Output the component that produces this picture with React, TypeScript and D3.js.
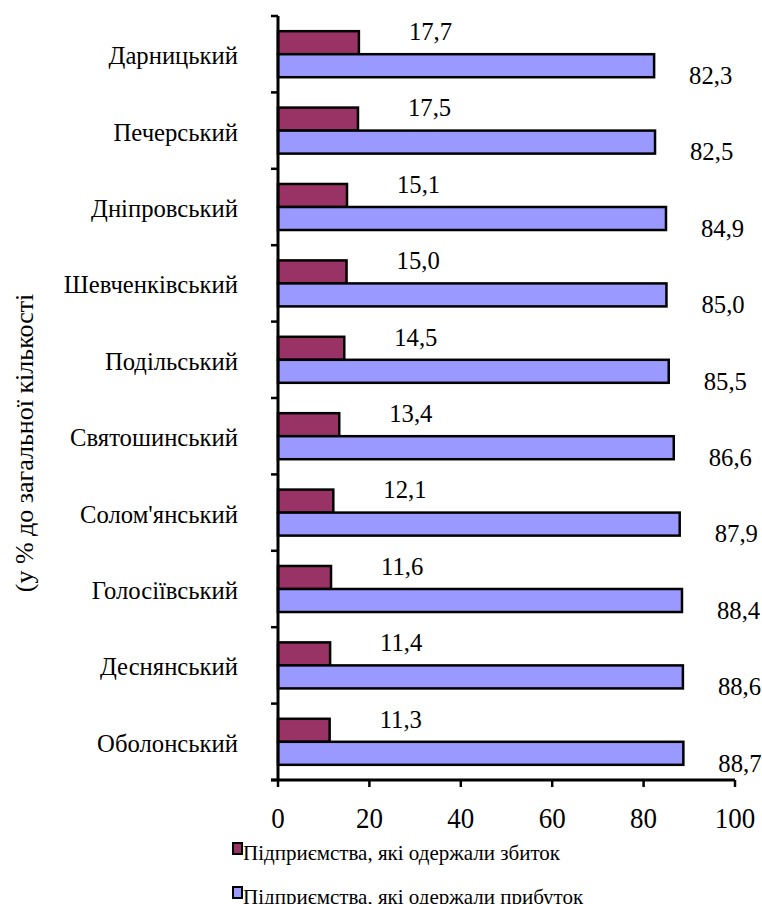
import React, { useEffect, useState } from "react";
import * as d3 from "d3";

const districts = [
  "Дарницький",
  "Печерський",
  "Дніпровський",
  "Шевченківський",
  "Подільський",
  "Святошинський",
  "Солом'янський",
  "Голосіївський",
  "Деснянський",
  "Оболонський",
];
const lossShare = [17.7, 17.5, 15.1, 15.0, 14.5, 13.4, 12.1, 11.6, 11.4, 11.3];
const profitShare = [82.3, 82.5, 84.9, 85.0, 85.5, 86.6, 87.9, 88.4, 88.6, 88.7];
const xTicks = [0, 20, 40, 60, 80, 100];
const seriesNames = [
  "Підприємства, які одержали збиток",
  "Підприємства, які одержали прибуток",
];
const axisTitle = "(у % до загальної кількості";

const W = 762;
const H = 904;
const FONT = '"Liberation Serif", "Times New Roman", Tinos, monospace';
const RED = "#993366";
const BLUE = "#9999FF";

const fmt = (v: number) => v.toFixed(1).replace(".", ",");

export default function App() {
  const [tick, setTick] = useState(0);
  useEffect(() => {
    const fonts = (document as any).fonts;
    if (fonts && fonts.load) {
      fonts.load('26px "Liberation Serif"', "Дарницький 17,7").then(() => setTick((t) => t + 1)).catch(() => {});
    }
    const t1 = setTimeout(() => setTick((t) => t + 1), 150);
    return () => clearTimeout(t1);
  }, []);

  const x = d3.scaleLinear().domain([0, 100]).range([278, 735]);
  const y = d3.scaleBand<string>().domain(districts).range([16, 780]).paddingInner(0).paddingOuter(0);
  const sub = d3
    .scaleBand<string>()
    .domain(["loss", "profit"])
    .range([0, y.bandwidth()])
    .paddingInner(0)
    .paddingOuter(0.66);

  const x0 = x(0);
  const yBottom = y.range()[1];
  const yTop = y.range()[0];
  const boundaries = districts.map((d) => y(d) as number).concat([yBottom]);
  const ts = { fontFamily: FONT };

  return (
    <svg key={tick} width={W} height={H} style={{ position: "absolute", left: 0, top: 0 }}>
      <rect x={0} y={0} width={W} height={H} fill="#fff" />
      <text
        transform={`translate(33,${443}) rotate(-90)`}
        textAnchor="middle"
        fontSize={26}
        style={ts}
      >
        {axisTitle}
      </text>

      {districts.map((d, i) => {
        const by = y(d) as number;
        const ry = by + (sub("loss") as number);
        const py = by + (sub("profit") as number);
        const h = sub.bandwidth();
        return (
          <g key={d}>
            <rect x={x0} y={ry} width={x(lossShare[i]) - x0} height={h} fill={RED} stroke="#000" strokeWidth={2.5} />
            <rect x={x0} y={py} width={x(profitShare[i]) - x0} height={h} fill={BLUE} stroke="#000" strokeWidth={2.5} />
          </g>
        );
      })}

      {districts.map((d, i) => {
        const by = y(d) as number;
        return (
          <g key={"lab" + d}>
            <text
              transform={`translate(${x(lossShare[i]) + 50},${by + 24}) scale(0.95,1)`}
              textAnchor="start"
              fontSize={26}
              style={ts}
            >
              {fmt(lossShare[i])}
            </text>
            <text
              transform={`translate(${x(profitShare[i]) + 35},${by + 68}) scale(0.95,1)`}
              textAnchor="start"
              fontSize={26}
              style={ts}
            >
              {fmt(profitShare[i])}
            </text>
          </g>
        );
      })}

      {districts.map((d) => (
        <text
          key={"cat" + d}
          transform={`translate(238,${(y(d) as number) + y.bandwidth() / 2 + 10}) scale(0.95,1)`}
          textAnchor="end"
          fontSize={26}
          style={ts}
        >
          {d}
        </text>
      ))}

      <line x1={x0} x2={x0} y1={yTop} y2={yBottom} stroke="#000" strokeWidth={3} />
      {boundaries.map((b, i) => (
        <line key={"yt" + i} x1={x0 - 7} x2={x0} y1={b} y2={b} stroke="#000" strokeWidth={2.5} />
      ))}

      <line x1={x0 - 7} x2={x(100)} y1={yBottom} y2={yBottom} stroke="#000" strokeWidth={3} />
      {xTicks.map((t) => (
        <g key={"xt" + t}>
          <line x1={x(t)} x2={x(t)} y1={yBottom} y2={yBottom + 7} stroke="#000" strokeWidth={2.5} />
          <text
            transform={`translate(${x(t)},${yBottom + 48}) scale(0.9,1)`}
            textAnchor="middle"
            fontSize={30}
            style={ts}
          >
            {t}
          </text>
        </g>
      ))}

      {seriesNames.map((s, i) => (
        <g key={s} transform={`translate(233,${843 + i * 44})`}>
          <rect x={0} y={0} width={9} height={11} fill={i === 0 ? RED : BLUE} stroke="#000" strokeWidth={2} />
          <text x={10} y={17} fontSize={21} style={ts}>
            {s}
          </text>
        </g>
      ))}
    </svg>
  );
}
